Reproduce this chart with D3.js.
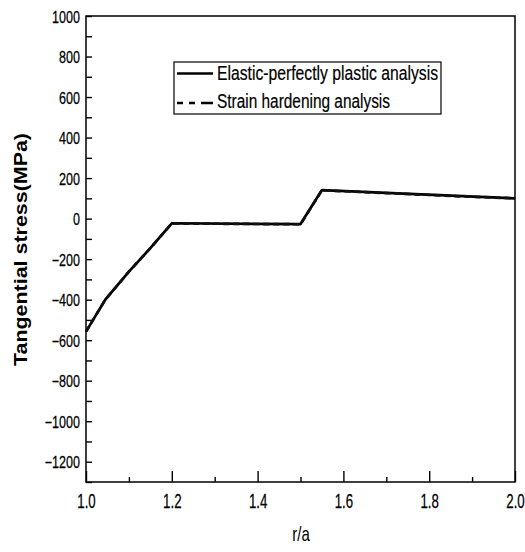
<!DOCTYPE html>
<html>
<head>
<meta charset="utf-8">
<script src="https://cdn.jsdelivr.net/npm/d3@7"></script>
<style>
  html, body { margin: 0; padding: 0; background: #fff; }
  svg { display: block; font-family: "Liberation Sans", Arial, sans-serif; }
</style>
</head>
<body>
<svg id="chart" width="525" height="552"></svg>
<script>
// Radius ratio r/a and tangential stress (MPa) along the wall
const ratioPoints = [1.0, 1.045, 1.1, 1.15, 1.2, 1.5, 1.55, 1.7, 1.85, 2.0];
const elasticPlastic = [-558, -400, -262, -146, -23, -27, 141, 127, 113, 100];
const strainHardening = [-558, -400, -262, -146, -24, -28, 140, 126, 112, 100];

const seriesNames = ["Elastic-perfectly plastic analysis", "Strain hardening analysis"];

const xMajor = [1.0, 1.2, 1.4, 1.6, 1.8, 2.0];
const xMinor = [1.1, 1.3, 1.5, 1.7, 1.9];
const yMajor = [-1200, -1000, -800, -600, -400, -200, 0, 200, 400, 600, 800, 1000];
const yMinor = [-1300, -1100, -900, -700, -500, -300, -100, 100, 300, 500, 700, 900];

const svg = d3.select("#chart");
const plotLeft = 86, plotRight = 515, plotTop = 16, plotBottom = 482;

const x = d3.scaleLinear().domain([1.0, 2.0]).range([plotLeft, plotRight]);
const y = d3.scaleLinear().domain([-1300, 1000]).range([plotBottom, plotTop]);

// Inward ticks on the bottom axis
const gxMinor = svg.append("g").attr("transform", `translate(0,${plotBottom})`)
  .call(d3.axisBottom(x).tickValues(xMinor).tickSize(-5).tickFormat(""));
const gx = svg.append("g").attr("transform", `translate(0,${plotBottom})`)
  .call(d3.axisBottom(x).tickValues(xMajor).tickSize(-11).tickFormat(d3.format(".1f")));

// Inward ticks on the left axis
const gyMinor = svg.append("g").attr("transform", `translate(${plotLeft},0)`)
  .call(d3.axisLeft(y).tickValues(yMinor).tickSize(-6).tickFormat(""));
const gy = svg.append("g").attr("transform", `translate(${plotLeft},0)`)
  .call(d3.axisLeft(y).tickValues(yMajor).tickSize(-6).tickFormat(d3.format("d")));

[gx, gxMinor, gy, gyMinor].forEach(g => {
  g.select(".domain").remove();
  g.selectAll(".tick line").attr("stroke", "#000").attr("stroke-width", 1.4);
});

gx.selectAll(".tick text")
  .attr("y", null).attr("dy", null)
  .attr("text-anchor", "middle")
  .attr("transform", "translate(0,26) scale(0.68,1)")
  .attr("font-size", 19.5)
  .attr("font-family", "Liberation Sans, Arial, sans-serif")
  .attr("fill", "#000")
  .attr("stroke", "#000").attr("stroke-width", 0.25);

gy.selectAll(".tick text")
  .attr("x", null).attr("dy", null)
  .attr("text-anchor", "end")
  .attr("transform", "translate(-6,6) scale(0.76,1)")
  .attr("font-size", 16.5)
  .attr("font-family", "Liberation Sans, Arial, sans-serif")
  .attr("fill", "#000")
  .attr("stroke", "#000").attr("stroke-width", 0.25);

// Frame around the plot area
svg.append("rect")
  .attr("x", plotLeft).attr("y", plotTop)
  .attr("width", plotRight - plotLeft).attr("height", plotBottom - plotTop)
  .attr("fill", "none").attr("stroke", "#000").attr("stroke-width", 1.5);

// Curves
const line = d3.line().x((d, i) => x(ratioPoints[i])).y(d => y(d));

svg.append("path")
  .datum(elasticPlastic)
  .attr("d", line)
  .attr("fill", "none").attr("stroke", "#000")
  .attr("stroke-width", 2.7).attr("stroke-linejoin", "round");

svg.append("path")
  .datum(strainHardening)
  .attr("d", line)
  .attr("fill", "none").attr("stroke", "#111")
  .attr("stroke-width", 2.7).attr("stroke-dasharray", "6,4");

// Axis titles
svg.append("text")
  .attr("x", 301).attr("y", 541)
  .attr("text-anchor", "middle")
  .attr("transform", "translate(301,0) scale(0.75,1) translate(-301,0)")
  .attr("font-size", 20)
  .attr("fill", "#000")
  .text("r/a");

svg.append("text")
  .attr("transform", "translate(27,249.5) rotate(-90)")
  .attr("text-anchor", "middle")
  .attr("font-size", 19)
  .attr("font-weight", "bold")
  .attr("textLength", 233)
  .attr("lengthAdjust", "spacingAndGlyphs")
  .attr("fill", "#000")
  .text("Tangential stress(MPa)");

// Legend
const legend = svg.append("g");
legend.append("rect")
  .attr("x", 174).attr("y", 62).attr("width", 267).attr("height", 52)
  .attr("fill", "#fff").attr("stroke", "#000").attr("stroke-width", 1.2);

const legendRows = [
  { name: seriesNames[0], dash: null, ly: 73.5, ty: 79.5, w: 221 },
  { name: seriesNames[1], dash: "6,6,6,6,12", ly: 103, ty: 108, w: 173 }
];
legendRows.forEach(r => {
  legend.append("line")
    .attr("x1", 177).attr("x2", 213).attr("y1", r.ly).attr("y2", r.ly)
    .attr("stroke", "#000").attr("stroke-width", 2.7)
    .attr("stroke-dasharray", r.dash);
  legend.append("text")
    .attr("x", 217).attr("y", r.ty)
    .attr("font-size", 19.5)
    .attr("textLength", r.w)
    .attr("lengthAdjust", "spacingAndGlyphs")
    .attr("fill", "#000")
    .attr("stroke", "#000").attr("stroke-width", 0.2)
    .text(r.name);
});
</script>
</body>
</html>
